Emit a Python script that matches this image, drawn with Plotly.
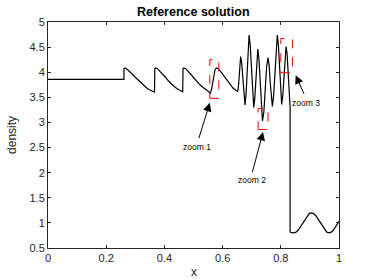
import plotly.graph_objects as go

# Density profile
x_vals = [
    0.0, 0.261,
    0.261, 0.264, 0.270, 0.280, 0.290, 0.300, 0.310, 0.320, 0.330, 0.340, 0.350, 0.360, 0.366,
    0.367, 0.370, 0.376, 0.385, 0.395, 0.405, 0.415, 0.425, 0.435, 0.445, 0.455, 0.463,
    0.464, 0.467, 0.473, 0.482, 0.492, 0.502, 0.512, 0.522, 0.532, 0.542, 0.552, 0.558,
    0.562, 0.566, 0.570, 0.574, 0.579, 0.585, 0.595, 0.605, 0.615, 0.625, 0.635, 0.645, 0.652,
    0.6545, 0.657, 0.6595, 0.662,
    0.6658, 0.6695, 0.6733, 0.677,
    0.6805, 0.684, 0.6875, 0.691,
    0.695, 0.699, 0.703, 0.707,
    0.7105, 0.714, 0.7175, 0.721,
    0.725, 0.729, 0.733, 0.737,
    0.7418, 0.7465, 0.7513, 0.756,
    0.7598, 0.7635, 0.7673, 0.771,
    0.7753, 0.7795, 0.7838, 0.788,
    0.7918, 0.7955, 0.7993, 0.803,
    0.8068, 0.8105, 0.8143, 0.818,
    0.8218, 0.8255, 0.829, 0.832,
    0.832, 0.836, 0.845,
    0.8525, 0.860, 0.8675, 0.875, 0.8825, 0.890, 0.8975, 0.905,
    0.9126, 0.9203, 0.928, 0.9355, 0.943, 0.951, 0.958, 0.966,
    0.9735, 0.981, 0.9885, 0.996, 1.0,
]
density = [
    3.857, 3.857,
    4.07, 4.085, 4.07, 4.02, 3.96, 3.90, 3.84, 3.78, 3.73, 3.68, 3.645, 3.615, 3.605,
    4.07, 4.085, 4.07, 4.02, 3.96, 3.89, 3.82, 3.76, 3.71, 3.665, 3.63, 3.61,
    4.07, 4.085, 4.07, 4.02, 3.95, 3.88, 3.81, 3.75, 3.70, 3.65, 3.605, 3.585,
    3.66, 3.80, 3.95, 4.05, 4.085, 4.07, 4.00, 3.92, 3.84, 3.76, 3.69, 3.64, 3.62,
    3.72, 3.965, 4.21, 4.31,
    4.17, 3.83, 3.49, 3.35,
    3.55, 4.045, 4.54, 4.74,
    4.53, 4.02, 3.51, 3.30,
    3.47, 3.88, 4.29, 4.46,
    4.25, 3.745, 3.24, 3.03,
    3.21, 3.66, 4.11, 4.29,
    4.15, 3.805, 3.46, 3.32,
    3.53, 4.03, 4.53, 4.74,
    4.54, 4.05, 3.56, 3.36,
    3.53, 3.935, 4.34, 4.51,
    4.35, 3.95, 3.55, 3.30,
    0.82, 0.805, 0.80,
    0.815, 0.858, 0.924, 1.0, 1.076, 1.142, 1.185, 1.20,
    1.185, 1.142, 1.076, 1.0, 0.924, 0.858, 0.815, 0.80,
    0.815, 0.858, 0.924, 1.0, 1.03,
]

x_ticks = [0, 0.2, 0.4, 0.6, 0.8, 1]
x_tick_labels = ["0", "0.2", "0.4", "0.6", "0.8", "1"]
y_ticks = [0.5, 1, 1.5, 2, 2.5, 3, 3.5, 4, 4.5, 5]
y_tick_labels = ["0.5", "1", "1.5", "2", "2.5", "3", "3.5", "4", "4.5", "5"]

# zoom boxes: (x0, x1, y0, y1)
zoom_boxes = [
    (0.556, 0.587, 3.48, 4.25),
    (0.722, 0.756, 2.86, 3.28),
    (0.800, 0.840, 3.99, 4.67),
]
zoom_labels = ["zoom 1", "zoom 2", "zoom 3"]
arrow_heads = [(0.556, 3.39), (0.739, 2.81), (0.851, 3.94)]
arrow_tails = [(0.517, 2.66), (0.701, 1.98), (0.882, 3.54)]
label_pos = [(0.512, 2.51), (0.702, 1.85), (0.888, 3.38)]

title_text = "Reference solution"
x_title = "x"
y_title = "density"

font_fam = "Liberation Sans, Arial, sans-serif"
axis_col = "#262626"

fig = go.Figure()
fig.add_trace(go.Scatter(x=x_vals, y=density, mode="lines",
                         line=dict(color="black", width=1.2), showlegend=False,
                         hoverinfo="skip"))

for (x0, x1, y0, y1) in zoom_boxes:
    fig.add_shape(type="rect", x0=x0, x1=x1, y0=y0, y1=y1, xref="x", yref="y",
                  line=dict(color="red", width=1, dash="dash"))

for (hx, hy), (tx, ty) in zip(arrow_heads, arrow_tails):
    fig.add_annotation(x=hx, y=hy, ax=tx, ay=ty, xref="x", yref="y",
                       axref="x", ayref="y", text="", showarrow=True,
                       arrowhead=2, arrowsize=1.7, arrowwidth=1,
                       arrowcolor="black", standoff=0, startstandoff=0)

for txt, (lx, ly) in zip(zoom_labels, label_pos):
    fig.add_annotation(x=lx, y=ly, xref="x", yref="y", text=txt,
                       showarrow=False, font=dict(size=8.5, color="black",
                                                  family=font_fam))

# titles as paper-anchored text
fig.add_annotation(x=0.5, y=1.043, xref="paper", yref="paper",
                   text="<b>" + title_text + "</b>", showarrow=False,
                   xanchor="center", yanchor="middle",
                   font=dict(size=12.5, color="black", family=font_fam))
fig.add_annotation(x=0.5, y=-0.108, xref="paper", yref="paper",
                   text=x_title, showarrow=False, xanchor="center", yanchor="middle",
                   font=dict(size=12, color=axis_col, family=font_fam))
fig.add_annotation(x=-0.124, y=0.5, xref="paper", yref="paper",
                   text=y_title, showarrow=False, textangle=-90,
                   xanchor="center", yanchor="middle",
                   font=dict(size=12, color=axis_col, family=font_fam))

fig.update_layout(
    width=374, height=280,
    margin=dict(l=48, r=35, t=22, b=32, autoexpand=False),
    paper_bgcolor="white", plot_bgcolor="white",
    font=dict(family=font_fam, size=11, color=axis_col),
    xaxis=dict(range=[0, 1], tickvals=x_ticks, ticktext=x_tick_labels,
               ticks="inside", ticklen=3, tickcolor=axis_col, showline=True,
               linecolor=axis_col, linewidth=1, mirror="ticks", showgrid=False,
               zeroline=False, automargin=False),
    yaxis=dict(range=[0.5, 5], tickvals=y_ticks, ticktext=y_tick_labels,
               ticks="inside", ticklen=3, tickcolor=axis_col, showline=True,
               linecolor=axis_col, linewidth=1, mirror="ticks", showgrid=False,
               zeroline=False, automargin=False),
)

fig.write_html("out.html",
               config={"displayModeBar": False, "staticPlot": True},
               post_script="document.body.style.margin='0px';"
                           "document.body.style.overflow='hidden';")
